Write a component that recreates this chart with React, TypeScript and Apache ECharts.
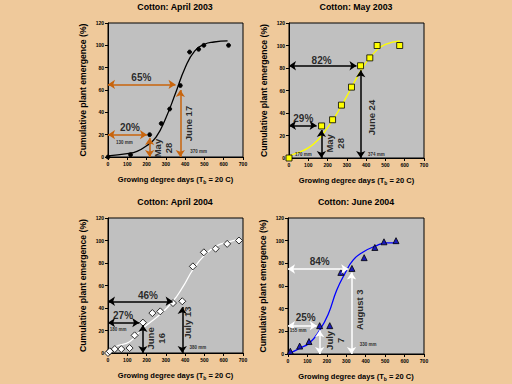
import { useEffect, useRef } from 'react';
import * as echarts from 'echarts';

// ---------- text ----------
const titles = ['Cotton: April 2003', 'Cotton: May 2003', 'Cotton: April 2004', 'Cotton: June 2004'];
const yAxisName = 'Cumulative plant emergence (%)';
const xAxisName = '{n|Growing degree days (T}{s|b}{n| = 20 C)}';

// ---------- axis ranges ----------
const xMin = 0, xMax = 700, xStep = 100;
const yMin = 0, yMax = 120, yStep = 20;

// ---------- Cotton: April 2003 ----------
const obsApr03 = [[0, 0], [117, 2], [216, 20], [276, 30], [320, 43], [375, 64], [423, 94], [470, 96.5], [497, 100], [625, 100]];
const fitApr03 = [[0, 1], [100, 3], [150, 5], [200, 10], [250, 18], [300, 35], [350, 57], [400, 80], [450, 95], [500, 101], [550, 103], [620, 104]];
const arrowsApr03 = [[[0, 65], [350, 65]], [[0, 20], [202, 20]], [[216, 0], [216, 17]], [[375, 0], [375, 60]]];
const pctApr03 = [{ name: '65%', value: [173, 71] }, { name: '20%', value: [114, 26] }];
const dateApr03 = [{ name: 'May\n28', value: [285, 8] }, { name: 'June 17', value: [415, 30] }];
const rainApr03 = [{ name: '130 mm', value: [85, 13] }, { name: '370 mm', value: [470, 5] }];

// ---------- Cotton: May 2003 ----------
const obsMay03 = [[0, 0], [169, 28.5], [226, 34], [272, 47], [324, 63], [371, 82], [419, 89], [457, 100], [574, 100]];
const fitMay03 = [[0, 2], [50, 5], [100, 9], [150, 16], [200, 27], [250, 40], [300, 55], [350, 71], [400, 85], [450, 95], [500, 101], [575, 104]];
const arrowsMay03 = [[[0, 82], [350, 82]], [[0, 29], [143, 29]], [[168, 0], [168, 25]], [[372, 0], [372, 78]]];
const pctMay03 = [{ name: '82%', value: [169, 87] }, { name: '29%', value: [74, 35] }];
const dateMay03 = [{ name: 'May\n28', value: [238, 13] }, { name: 'June 24', value: [428, 36] }];
const rainMay03 = [{ name: '170 mm', value: [74, 3] }, { name: '374 mm', value: [453, 3] }];

// ---------- Cotton: April 2004 ----------
const obsApr04 = [[0, 0], [9, 1.5], [35, 3.5], [69, 3.5], [112, 4.4], [138, 15.7], [181, 27], [230, 35.5], [271, 37], [337, 44.4], [385, 46], [440, 77], [497, 89.5], [558, 92.7], [618, 97], [679, 100]];
const fitApr04 = [[0, 0.5], [43, 6], [112, 10], [181, 22], [268, 34], [337, 46], [389, 59], [440, 74], [501, 87], [561, 95], [630, 99], [679, 101]];
const arrowsApr04 = [[[0, 46], [335, 46]], [[0, 27], [162, 27]], [[181, 0], [181, 25]], [[385, 0], [385, 41]]];
const pctApr04 = [{ name: '46%', value: [207, 51] }, { name: '27%', value: [78, 33] }];
const dateApr04 = [{ name: 'June\n16', value: [250, 13] }, { name: 'July 13', value: [410, 27] }];
const rainApr04 = [{ name: '180 mm', value: [52, 21] }, { name: '380 mm', value: [466, 4.5] }];

// ---------- Cotton: June 2004 ----------
const obsJun04 = [[12, 2.4], [60, 7], [108, 11], [163, 25], [215, 25], [272, 72], [329, 75.5], [392, 85], [447, 94], [494, 99], [556, 100]];
const fitJun04 = [[0, 0], [60, 5], [112, 10], [163, 21], [207, 35], [250, 56], [293, 71], [336, 83], [387, 90], [447, 95], [508, 98], [560, 98]];
const arrowsJun04 = [[[0, 75], [310, 75]], [[0, 25], [148, 25]], [[163, 0], [163, 21]], [[327, 0], [327, 72]]];
const pctJun04 = [{ name: '84%', value: [163, 82] }, { name: '25%', value: [91, 32] }];
const dateJun04 = [{ name: 'July\n7', value: [241, 12] }, { name: 'August 3', value: [370, 39] }];
const rainJun04 = [{ name: '155 mm', value: [52, 21] }, { name: '330 mm', value: [413, 8] }];

const FONT = 'Arial, "Liberation Sans", sans-serif';

const panels = [
  { grid: { left: 108, top: 23, width: 135, height: 134 }, titleX: 175, titleY: 2, obs: obsApr03, fit: fitApr03, arrows: arrowsApr03, pct: pctApr03, dates: dateApr03, rain: rainApr03,
    symbol: 'circle', symbolSize: 4, markerColor: '#000000', markerBorder: '#000000', lineColor: '#000000', arrowColor: '#c8640c' },
  { grid: { left: 289, top: 23, width: 135, height: 135 }, titleX: 356, titleY: 2, obs: obsMay03, fit: fitMay03, arrows: arrowsMay03, pct: pctMay03, dates: dateMay03, rain: rainMay03,
    symbol: 'rect', symbolSize: 6, markerColor: '#ffff00', markerBorder: '#000000', lineColor: '#ffff00', arrowColor: '#000000' },
  { grid: { left: 108, top: 218, width: 135, height: 135 }, titleX: 175, titleY: 197, obs: obsApr04, fit: fitApr04, arrows: arrowsApr04, pct: pctApr04, dates: dateApr04, rain: rainApr04,
    symbol: 'diamond', symbolSize: 7, markerColor: '#ffffff', markerBorder: '#000000', lineColor: '#ffffff', arrowColor: '#000000' },
  { grid: { left: 288, top: 218, width: 136, height: 136 }, titleX: 356, titleY: 197, obs: obsJun04, fit: fitJun04, arrows: arrowsJun04, pct: pctJun04, dates: dateJun04, rain: rainJun04,
    symbol: 'triangle', symbolSize: 6, markerColor: '#1a1ab8', markerBorder: '#000000', lineColor: '#0000ff', arrowColor: '#ffffff' },
];

function buildOption() {
  const grid: any[] = [];
  const xAxis: any[] = [];
  const yAxis: any[] = [];
  const title: any[] = [];
  const series: any[] = [];

  panels.forEach((p, i) => {
    grid.push({ ...p.grid, show: true, backgroundColor: '#c0c0c0', borderColor: '#000', borderWidth: 1 });
    title.push({
      text: titles[i], left: p.titleX, top: p.titleY, textAlign: 'center', padding: 0,
      textStyle: { fontFamily: FONT, fontSize: 8.8, fontWeight: 'bold', color: '#000' },
    });
    xAxis.push({
      gridIndex: i, type: 'value', min: xMin, max: xMax, interval: xStep,
      name: xAxisName, nameLocation: 'middle', nameGap: 18,
      nameTextStyle: {
        rich: {
          n: { fontFamily: FONT, fontSize: 7.5, fontWeight: 'bold', color: '#000' },
          s: { fontFamily: FONT, fontSize: 5, fontWeight: 'bold', color: '#000', verticalAlign: 'bottom', padding: [4, 0, 0, 0] },
        },
      },
      axisLine: { show: true, onZero: false, lineStyle: { color: '#000', width: 1 } },
      axisTick: { show: true, inside: false, length: 3, lineStyle: { color: '#000' } },
      axisLabel: { fontFamily: FONT, fontSize: 5, fontWeight: 'bold', color: '#000', margin: 4 },
      splitLine: { show: false },
    });
    yAxis.push({
      gridIndex: i, type: 'value', min: yMin, max: yMax, interval: yStep,
      name: yAxisName, nameLocation: 'middle', nameGap: 21,
      nameTextStyle: { fontFamily: FONT, fontSize: 8.6, fontWeight: 'bold', color: '#000' },
      axisLine: { show: true, onZero: false, lineStyle: { color: '#000', width: 1 } },
      axisTick: { show: true, inside: false, length: 3, lineStyle: { color: '#000' } },
      axisLabel: { fontFamily: FONT, fontSize: 5, fontWeight: 'bold', color: '#000', margin: 4 },
      splitLine: { show: false },
    });

    series.push({
      type: 'line', xAxisIndex: i, yAxisIndex: i, data: p.fit, smooth: true, showSymbol: false, symbol: 'none',
      lineStyle: { color: p.lineColor, width: 1.3 }, z: 2,
      markLine: {
        silent: true, symbol: ['arrow', 'arrow'], symbolSize: 7, precision: 4,
        lineStyle: { color: p.arrowColor, width: 1.5, type: 'solid' },
        itemStyle: { color: p.arrowColor },
        label: { show: false },
        emphasis: { disabled: true },
        data: p.arrows.map(([a, b]) => [{ coord: a }, { coord: b }]),
      },
    });
    series.push({
      type: 'scatter', xAxisIndex: i, yAxisIndex: i, data: p.obs, symbol: p.symbol, symbolSize: p.symbolSize,
      itemStyle: { color: p.markerColor, borderColor: p.markerBorder, borderWidth: 0.8, opacity: 1 }, z: 4,
    });
    series.push({
      type: 'scatter', xAxisIndex: i, yAxisIndex: i, data: p.pct, symbolSize: 0, z: 6,
      label: { show: true, position: 'inside', formatter: '{b}', fontFamily: FONT, fontSize: 10, fontWeight: 'bold', color: '#000' },
    });
    series.push({
      type: 'scatter', xAxisIndex: i, yAxisIndex: i, data: p.dates, symbolSize: 0, z: 6,
      label: { show: true, position: 'inside', rotate: 90, formatter: '{b}', fontFamily: FONT, fontSize: 9.5, fontWeight: 'bold', color: '#000', lineHeight: 11 },
    });
    series.push({
      type: 'scatter', xAxisIndex: i, yAxisIndex: i, data: p.rain, symbolSize: 0, z: 6,
      label: { show: true, position: 'inside', formatter: '{b}', fontFamily: FONT, fontSize: 4.5, fontWeight: 'bold', color: '#000' },
    });
  });

  return { animation: false, backgroundColor: '#efc99b', title, grid, xAxis, yAxis, series };
}

export default function App() {
  const ref = useRef<HTMLDivElement>(null);
  useEffect(() => {
    if (!ref.current) return;
    const chart = echarts.init(ref.current, null, { renderer: 'svg' });
    chart.setOption(buildOption() as any);
    return () => chart.dispose();
  }, []);
  return <div ref={ref} style={{ position: 'fixed', left: 0, top: 0, width: 512, height: 384 }} />;
}
